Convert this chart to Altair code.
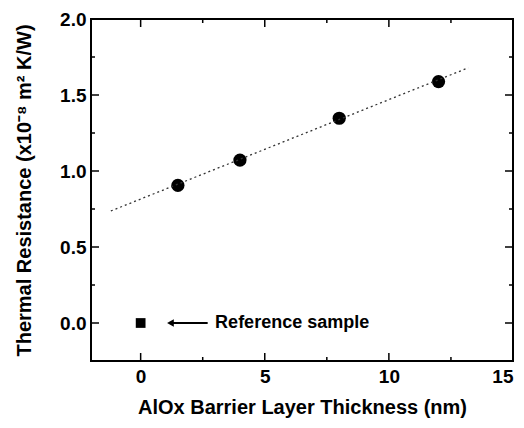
import altair as alt
import pandas as pd

# ---- data ----
thickness = [1.5, 4, 8, 12]
resistance = [0.905, 1.072, 1.347, 1.588]
ref_x = [0]
ref_y = [0.0]
fit_x = [-1.2, 13.2]
fit_y = [0.737, 1.679]
arrow_x = [1.2, 2.7]
arrow_y = [0.0, 0.0]
note_x = [3.0]
note_y = [0.0]
note_text = ["Reference sample"]
x_major = [0, 5, 10, 15]
x_minor = [2.5, 7.5, 12.5]
y_major = [0.0, 0.5, 1.0, 1.5, 2.0]
y_minor = [0.25, 0.75, 1.25, 1.75]
x_domain = [-2, 15]
y_domain = [-0.25, 2.0]

W, H = 422, 342
FONT = "Liberation Sans"

xs = alt.Scale(domain=x_domain, nice=False, zero=False)
ys = alt.Scale(domain=y_domain, nice=False, zero=False)

pts = pd.DataFrame({"x": thickness, "y": resistance})
ref = pd.DataFrame({"x": ref_x, "y": ref_y})
fit = pd.DataFrame({"x": fit_x, "y": fit_y})
arr = pd.DataFrame({"x": arrow_x, "y": arrow_y})
head = pd.DataFrame({"x": arrow_x[:1], "y": arrow_y[:1]})
note = pd.DataFrame({"x": note_x, "y": note_y, "t": note_text})
xmaj = pd.DataFrame({"v": x_major})
xmin = pd.DataFrame({"v": x_minor})
ymaj = pd.DataFrame({"v": y_major})
ymin = pd.DataFrame({"v": y_minor})

x_axis = alt.Axis(values=x_major, ticks=False, domain=False, grid=False,
                  labelFontSize=19, labelFontWeight="bold", labelFont=FONT,
                  labelPadding=6, labelColor="black",
                  title="AlOx Barrier Layer Thickness (nm)", titleFont=FONT,
                  titleFontSize=20, titleFontWeight="bold", titlePadding=11,
                  titleColor="black", format="d")
y_axis = alt.Axis(values=y_major, ticks=False, domain=False, grid=False,
                  labelFontSize=19, labelFontWeight="bold", labelFont=FONT,
                  labelPadding=5, labelColor="black", format=".1f",
                  title="Thermal Resistance (x10⁻⁸ m² K/W)", titleFont=FONT,
                  titleFontSize=20, titleFontWeight="bold", titlePadding=25,
                  titleColor="black")

points = alt.Chart(pts).mark_circle(size=175, color="black", opacity=1).encode(
    x=alt.X("x:Q", scale=xs, axis=x_axis),
    y=alt.Y("y:Q", scale=ys, axis=y_axis),
)
refpt = alt.Chart(ref).mark_square(size=95, color="black", opacity=1).encode(
    x=alt.X("x:Q", scale=xs), y=alt.Y("y:Q", scale=ys))
fitline = alt.Chart(fit).mark_line(color="#333333", strokeWidth=1.3,
                                   strokeDash=[2, 3]).encode(
    x=alt.X("x:Q", scale=xs), y=alt.Y("y:Q", scale=ys))
arrow = alt.Chart(arr).mark_line(color="black", strokeWidth=1.8).encode(
    x=alt.X("x:Q", scale=xs), y=alt.Y("y:Q", scale=ys))
arrowhead = alt.Chart(head).mark_point(shape="triangle-left", filled=True,
                                       size=60, color="black", opacity=1).encode(
    x=alt.X("x:Q", scale=xs), y=alt.Y("y:Q", scale=ys))
label = alt.Chart(note).mark_text(align="left", baseline="middle", font=FONT,
                                  fontSize=18, fontWeight="bold",
                                  color="black").encode(
    x=alt.X("x:Q", scale=xs), y=alt.Y("y:Q", scale=ys), text="t:N")


def xt(df, y0, y1):
    return alt.Chart(df).mark_rule(color="black", strokeWidth=1.5).encode(
        x=alt.X("v:Q", scale=xs), y=alt.value(y0), y2=alt.value(y1))


def yt(df, x0, x1):
    return alt.Chart(df).mark_rule(color="black", strokeWidth=1.5).encode(
        y=alt.Y("v:Q", scale=ys), x=alt.value(x0), x2=alt.value(x1))


ticks = [
    xt(xmaj, H, H - 8), xt(xmin, H, H - 4),
    xt(xmaj, 0, 8), xt(xmin, 0, 4),
    yt(ymaj, 0, 8), yt(ymin, 0, 4),
    yt(ymaj, W, W - 8), yt(ymin, W, W - 4),
]

chart = alt.layer(points, fitline, refpt, arrow, arrowhead, label, *ticks).properties(
    width=W, height=H,
    autosize=alt.AutoSizeParams(type="none"),
    padding={"left": 83, "top": 11, "right": 3, "bottom": 59},
    background="white",
).configure_view(stroke="black", strokeWidth=2)

chart.save("out.html", embed_options={"renderer": "svg", "actions": False})
